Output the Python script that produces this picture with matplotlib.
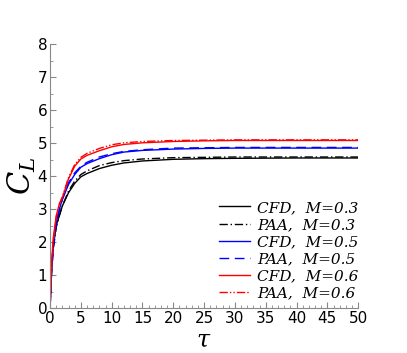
import matplotlib
matplotlib.use("Agg")
import matplotlib.pyplot as plt
from matplotlib.ticker import MultipleLocator

tau = [0, 0.25, 0.5, 1, 1.5, 2, 3, 4, 5, 6, 8, 10, 12, 15, 20, 25, 30, 40, 50]

cfd_03 = [0, 1.2, 1.85, 2.5, 2.8, 3.1, 3.5, 3.78, 3.98, 4.08, 4.23, 4.33, 4.4, 4.46, 4.51, 4.53, 4.54, 4.55, 4.55]
paa_03 = [0, 1.1, 1.75, 2.45, 2.8, 3.1, 3.55, 3.85, 4.05, 4.16, 4.32, 4.41, 4.47, 4.52, 4.56, 4.57, 4.58, 4.58, 4.58]
cfd_05 = [0, 1.25, 1.9, 2.6, 3.0, 3.3, 3.75, 4.05, 4.27, 4.38, 4.53, 4.65, 4.73, 4.78, 4.82, 4.84, 4.85, 4.85, 4.85]
paa_05 = [0, 1.1, 1.8, 2.55, 2.95, 3.3, 3.8, 4.1, 4.3, 4.42, 4.58, 4.68, 4.75, 4.8, 4.85, 4.86, 4.87, 4.87, 4.87]
cfd_06 = [0, 1.35, 2.1, 2.8, 3.15, 3.35, 3.92, 4.3, 4.52, 4.63, 4.77, 4.89, 4.96, 5.01, 5.05, 5.07, 5.08, 5.08, 5.08]
paa_06 = [0, 1.2, 1.95, 2.75, 3.15, 3.38, 3.96, 4.35, 4.57, 4.69, 4.84, 4.95, 5.01, 5.05, 5.08, 5.09, 5.1, 5.1, 5.1]

labels = ["CFD,  M=0.3", "PAA,  M=0.3", "CFD,  M=0.5",
          "PAA,  M=0.5", "CFD,  M=0.6", "PAA,  M=0.6"]

plt.rcParams["mathtext.fontset"] = "dejavuserif"

fig = plt.figure(figsize=(4.07, 3.53), dpi=100)
ax = fig.add_axes([0.123, 0.127, 0.757, 0.748])

ax.plot(tau, cfd_03, color="black", lw=1.0, label=labels[0])
ax.plot(tau, paa_03, color="black", lw=1.0, dashes=(6, 2, 1, 2), label=labels[1])
ax.plot(tau, cfd_05, color="blue", lw=1.0, label=labels[2])
ax.plot(tau, paa_05, color="blue", lw=1.0, dashes=(7, 4), label=labels[3])
ax.plot(tau, cfd_06, color="red", lw=1.0, label=labels[4])
ax.plot(tau, paa_06, color="red", lw=1.0, dashes=(6, 1.5, 1, 1.5, 1, 1.5), label=labels[5])

ax.set_xlim(0, 50)
ax.set_ylim(0, 8)
ax.xaxis.set_major_locator(MultipleLocator(5))
ax.xaxis.set_minor_locator(MultipleLocator(1))
ax.yaxis.set_major_locator(MultipleLocator(1))
ax.yaxis.set_minor_locator(MultipleLocator(0.5))

for s in ["top", "right"]:
    ax.spines[s].set_visible(False)
for s in ["left", "bottom"]:
    ax.spines[s].set_color("#888888")
    ax.spines[s].set_linewidth(0.8)
ax.tick_params(which="both", direction="in", color="#888888", labelsize=11, pad=2)
ax.tick_params(which="major", length=4)
ax.tick_params(which="minor", length=2)

ax.set_xlabel(r"$\tau$", fontsize=17, labelpad=1)
ax.set_ylabel(r"$C_L$", fontsize=22, labelpad=0)

ax.legend(loc="lower right", bbox_to_anchor=(1.035, -0.01), frameon=False,
          prop={"family": "DejaVu Serif", "style": "italic", "size": 11},
          handlelength=2.0, handletextpad=0.45, labelspacing=0.2, borderaxespad=0.3)

fig.savefig("out.png", dpi=100)
